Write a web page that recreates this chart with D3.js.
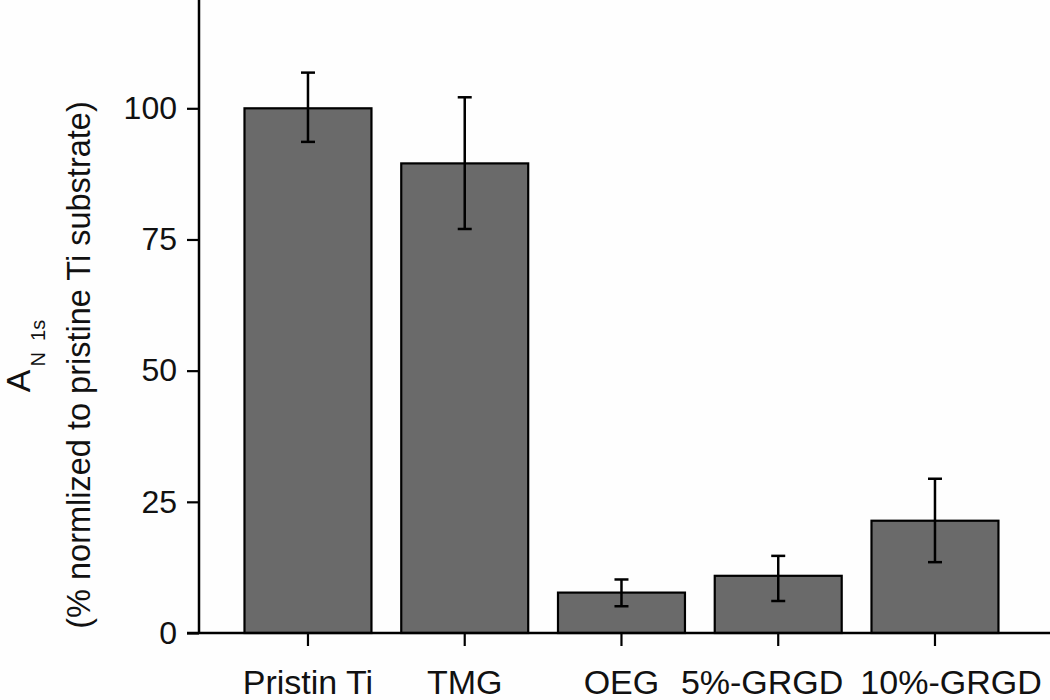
<!DOCTYPE html>
<html>
<head>
<meta charset="utf-8">
<script src="https://cdn.jsdelivr.net/npm/d3@7"></script>
<style>
  html, body { margin: 0; padding: 0; background: #ffffff; }
  svg { display: block; }
  text { font-family: "Liberation Sans", Arial, Helvetica, sans-serif; fill: #111; }
</style>
</head>
<body>
<svg id="chart" width="1050" height="700"></svg>
<script>
// ---- data ----
const categories = ["Pristin Ti", "TMG", "OEG", "5%-GRGD", "10%-GRGD"];
const values     = [100, 89.5, 7.7, 10.9, 21.4];
const errLow     = [93.6, 77.0, 5.1, 6.1, 13.5];
const errHigh    = [106.8, 102.1, 10.2, 14.7, 29.4];
const yTicks     = [0, 25, 50, 75, 100];
const yDomain    = [0, 120];
const yLabelMain = "A";
const yLabelSub  = "N\u00a0\u00a01s";
const yLabelLine2 = "(% normlized to pristine Ti substrate)";

// ---- layout ----
const W = 1050, H = 700;
const axisX = 199, axisY = 633;
const pxPerUnit = 5.247;

const svg = d3.select("#chart");
svg.append("rect").attr("width", W).attr("height", H).attr("fill", "#fefefe");

const x = d3.scaleBand()
  .domain(categories)
  .range([229.6, 229.6 + 5 * 156.75])
  .paddingInner(0.19)
  .paddingOuter(0.095);

const y = d3.scaleLinear()
  .domain(yDomain)
  .range([axisY, axisY - (yDomain[1] - yDomain[0]) * pxPerUnit]);

const data = categories.map((c, i) => ({ c, v: values[i], lo: errLow[i], hi: errHigh[i] }));

// bars
svg.append("g").selectAll("rect").data(data).join("rect")
  .attr("x", d => x(d.c))
  .attr("y", d => y(d.v))
  .attr("width", x.bandwidth())
  .attr("height", d => y(0) - y(d.v))
  .attr("fill", "#6a6a6a")
  .attr("stroke", "#000")
  .attr("stroke-width", 2.2);

// error bars
const eb = svg.append("g").attr("stroke", "#000").attr("stroke-width", 2.5);
data.forEach(d => {
  const cx = x(d.c) + x.bandwidth() / 2;
  eb.append("line").attr("x1", cx).attr("x2", cx).attr("y1", y(d.lo)).attr("y2", y(d.hi));
  eb.append("line").attr("x1", cx - 7).attr("x2", cx + 7).attr("y1", y(d.lo)).attr("y2", y(d.lo));
  eb.append("line").attr("x1", cx - 7).attr("x2", cx + 7).attr("y1", y(d.hi)).attr("y2", y(d.hi));
});

// y axis
const yAxis = d3.axisLeft(y).tickValues(yTicks).tickSize(12).tickPadding(10).tickSizeOuter(0);
const gy = svg.append("g").attr("transform", `translate(${axisX},0)`).call(yAxis);
gy.select(".domain").remove();
gy.selectAll(".tick line").attr("stroke", "#000").attr("stroke-width", 2.2);
gy.selectAll(".tick text").attr("font-size", 32).attr("fill", "#111")
  .attr("font-family", "'Liberation Sans', Arial, sans-serif");
svg.append("line").attr("x1", axisX).attr("x2", axisX).attr("y1", 0).attr("y2", axisY + 1)
  .attr("stroke", "#000").attr("stroke-width", 2.5);

// x axis
const xAxis = d3.axisBottom(x).tickSize(13).tickSizeOuter(0).tickFormat(() => "");
const gx = svg.append("g").attr("transform", `translate(0,${axisY})`).call(xAxis);
gx.select(".domain").remove();
gx.selectAll(".tick line").attr("stroke", "#000").attr("stroke-width", 2.2);
svg.append("line").attr("x1", 187).attr("x2", W).attr("y1", axisY).attr("y2", axisY)
  .attr("stroke", "#000").attr("stroke-width", 2.5);

// x labels with simple overlap resolution
const labels = svg.append("g").selectAll("text").data(categories).join("text")
  .attr("x", d => x(d) + x.bandwidth() / 2)
  .attr("y", 694)
  .attr("text-anchor", "middle")
  .attr("font-size", 34)
  .text(d => d);
const nodes = labels.nodes();
const centers = categories.map(d => x(d) + x.bandwidth() / 2);
const widths = nodes.map(n => n.getComputedTextLength());
const gap = 17;
for (let iter = 0; iter < 20; iter++) {
  for (let i = 0; i < nodes.length - 1; i++) {
    const right = centers[i] + widths[i] / 2;
    const left = centers[i + 1] - widths[i + 1] / 2;
    const overlap = right + gap - left;
    if (overlap > 0) { centers[i] -= overlap / 2; centers[i + 1] += overlap / 2; }
  }
}
nodes.forEach((n, i) => d3.select(n).attr("x", centers[i]));

// y axis title
const t1 = svg.append("text")
  .attr("transform", "rotate(-90)")
  .attr("x", -356).attr("y", 30)
  .attr("text-anchor", "middle");
t1.append("tspan").attr("font-size", 34).text(yLabelMain);
t1.append("tspan").attr("font-size", 20).attr("dx", 3).attr("dy", 15).text(yLabelSub);

svg.append("text")
  .attr("transform", "rotate(-90)")
  .attr("x", -365).attr("y", 90)
  .attr("text-anchor", "middle")
  .attr("font-size", 32.5)
  .text(yLabelLine2);
</script>
</body>
</html>
